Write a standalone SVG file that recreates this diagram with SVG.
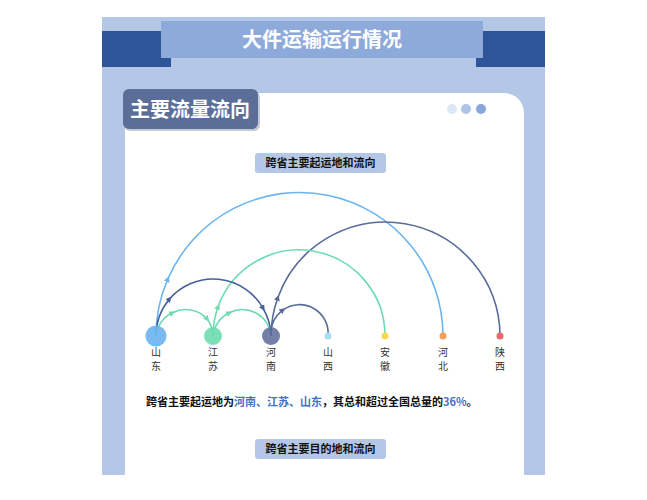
<svg xmlns="http://www.w3.org/2000/svg" width="647" height="500" viewBox="0 0 647 500">
<style>
.cjk{font-family:"Noto Sans CJK SC","Liberation Sans",sans-serif}
.lab{font-size:10px;fill:#333;text-anchor:middle}
.arc{fill:none;stroke-width:1.6}
.sub{font-size:11px;font-weight:bold;fill:#111;text-anchor:middle}
</style>
<defs>
<marker id="a1" viewBox="0 0 6 6" refX="3" refY="3" markerWidth="6" markerHeight="6" markerUnits="userSpaceOnUse" orient="auto"><path d="M0,0 L6,3 L0,6z" fill="#6ab4f0"/></marker>
<marker id="a2" viewBox="0 0 6 6" refX="3" refY="3" markerWidth="6" markerHeight="6" markerUnits="userSpaceOnUse" orient="auto"><path d="M0,0 L6,3 L0,6z" fill="#6ddbb0"/></marker>
<marker id="a3" viewBox="0 0 6 6" refX="3" refY="3" markerWidth="6" markerHeight="6" markerUnits="userSpaceOnUse" orient="auto"><path d="M0,0 L6,3 L0,6z" fill="#5a6b99"/></marker>
<marker id="a4" viewBox="0 0 6 6" refX="3" refY="3" markerWidth="6" markerHeight="6" markerUnits="userSpaceOnUse" orient="auto"><path d="M0,0 L6,3 L0,6z" fill="#46609c"/></marker>
</defs>
<rect x="102" y="17" width="443" height="458" fill="#b4c7e7"/>
<rect x="102" y="31" width="69" height="36" fill="#2e5597"/>
<rect x="476" y="31" width="69" height="36" fill="#2e5597"/>
<rect x="161" y="21" width="322" height="37" fill="#8eaadb"/>
<text x="322" y="47" class="cjk" font-size="20" font-weight="bold" fill="#fff" text-anchor="middle">大件运输运行情况</text>
<path d="M125,93 H504 A20,20 0 0 1 524,113 V475 H125 Z" fill="#fff"/>
<rect x="124" y="91" width="136" height="40" rx="6" fill="#3d4f78" opacity="0.3"/>
<rect x="123" y="89" width="135" height="40" rx="6" fill="#5b6e98"/>
<text x="190" y="117" class="cjk" font-size="20" font-weight="bold" fill="#fff" text-anchor="middle">主要流量流向</text>
<circle cx="452" cy="109" r="5" fill="#dce6f5"/>
<circle cx="466" cy="109" r="5" fill="#b0c4e8"/>
<circle cx="481" cy="109" r="5" fill="#8aa6da"/>
<rect x="255" y="153" width="131" height="20" rx="3" fill="#b4c7e7"/>
<text x="320.5" y="167" class="cjk sub">跨省主要起运地和流向</text>
<g id="connectors">
<path class="arc" stroke="#6ab4f0" marker-mid="url(#a1)" d="M156,336 A143.5,143.5 0 0 1 167.8,279 A143.5,143.5 0 0 1 443,336"/>
<path class="arc" stroke="#5a6b99" marker-mid="url(#a3)" d="M271,336 A114.5,114.5 0 0 1 277.8,297.7 A114.5,114.5 0 0 1 500,336"/>
<path class="arc" stroke="#6ddbb0" marker-mid="url(#a2)" d="M213,336 A86,86 0 0 1 218.1,306.7 A86,86 0 0 1 385,336"/>
<path class="arc" stroke="#46609c" marker-mid="url(#a4)" d="M156,336 A57.5,57.5 0 0 1 169.5,298.9 A57.5,57.5 0 0 1 263.1,308.3 A57.5,57.5 0 0 1 271,336"/>
<path class="arc" stroke="#6ddbb0" marker-mid="url(#a2)" d="M156,336 A28.5,28.5 0 0 1 172.5,312.8 A28.5,28.5 0 0 1 207.3,319.2 A28.5,28.5 0 0 1 213,336"/>
<path class="arc" stroke="#6ddbb0" marker-mid="url(#a2)" d="M213,336 A28.5,28.5 0 0 1 229.5,312.8 A28.5,28.5 0 0 1 271,336"/>
<path class="arc" stroke="#5a6b99" marker-mid="url(#a3)" d="M271,336 A28.5,28.5 0 0 1 282.9,310.1 A28.5,28.5 0 0 1 328,336"/>
</g>
<g id="n-shandong"><circle cx="156" cy="336" r="10.5" fill="#6ab4f0" opacity="0.9"/><text class="cjk lab" x="156" y="356">山</text><text class="cjk lab" x="156" y="370">东</text></g>
<g id="n-jiangsu"><circle cx="213" cy="336" r="9" fill="#6ddbb0" opacity="0.9"/><text class="cjk lab" x="213" y="356">江</text><text class="cjk lab" x="213" y="370">苏</text></g>
<g id="n-henan"><circle cx="271" cy="336" r="9" fill="#5a6b99" opacity="0.85"/><text class="cjk lab" x="271" y="356">河</text><text class="cjk lab" x="271" y="370">南</text></g>
<g id="n-shanxi"><circle cx="328" cy="336" r="3.5" fill="#a8dcf7"/><text class="cjk lab" x="328" y="356">山</text><text class="cjk lab" x="328" y="370">西</text></g>
<g id="n-anhui"><circle cx="385" cy="336" r="3.5" fill="#f7d94c"/><text class="cjk lab" x="385" y="356">安</text><text class="cjk lab" x="385" y="370">徽</text></g>
<g id="n-hebei"><circle cx="443" cy="336" r="3.5" fill="#f5a05a"/><text class="cjk lab" x="443" y="356">河</text><text class="cjk lab" x="443" y="370">北</text></g>
<g id="n-shaanxi"><circle cx="500" cy="336" r="3.5" fill="#e86a6a"/><text class="cjk lab" x="500" y="356">陕</text><text class="cjk lab" x="500" y="370">西</text></g>
<text x="146" y="406" class="cjk" font-size="11" font-weight="bold" fill="#111">跨省主要起运地为<tspan fill="#4472c4">河南、江苏、山东</tspan>，其总和超过全国总量的<tspan fill="#4472c4">36%</tspan>。</text>
<rect x="255" y="439" width="131" height="20" rx="3" fill="#b4c7e7"/>
<text x="320.5" y="453" class="cjk sub">跨省主要目的地和流向</text>
</svg>
